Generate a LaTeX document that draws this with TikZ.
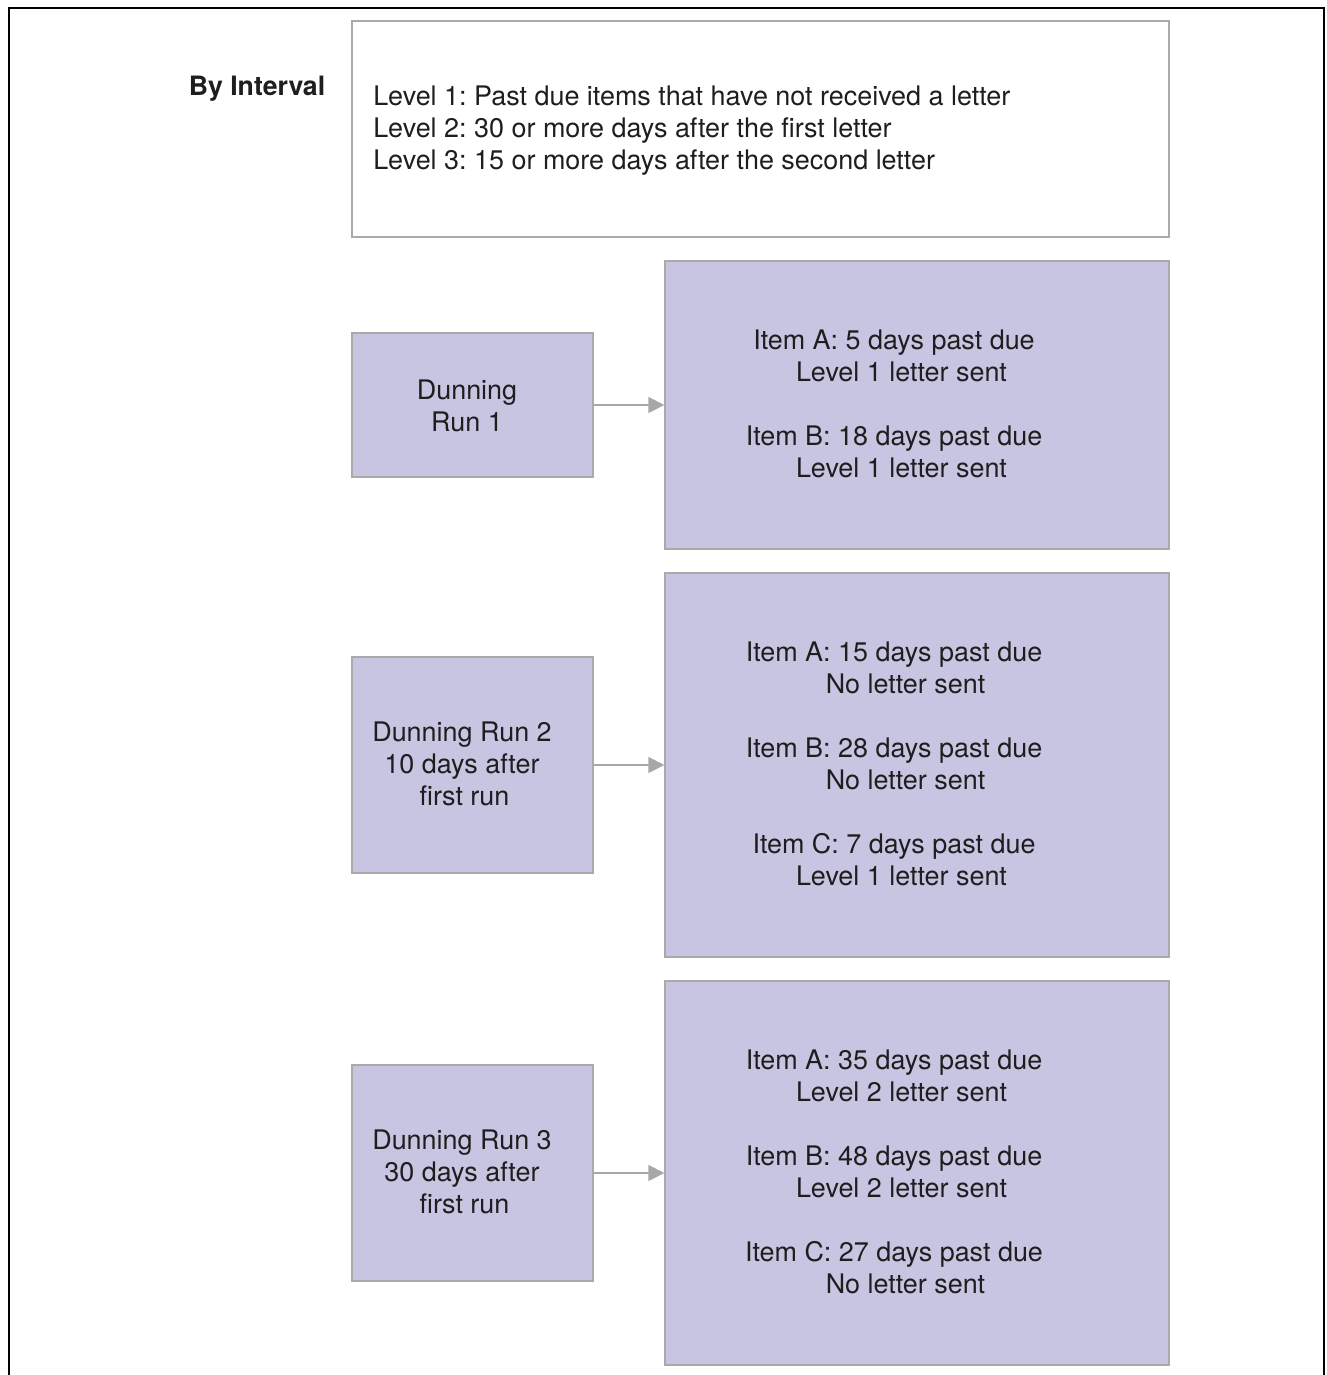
\documentclass[tikz,border=0pt]{standalone}
\usepackage{fontspec}
\setmainfont{TeX Gyre Heros}
\frenchspacing
\usetikzlibrary{arrows.meta}
\definecolor{boxfill}{HTML}{C8C5E2}
\definecolor{boxline}{HTML}{AAAAAA}
\definecolor{txtcol}{HTML}{1E1E1E}
\definecolor{arrcol}{HTML}{A8A8A8}
\begin{document}
\begin{tikzpicture}[x=0.75pt,y=-0.75pt,
  runbox/.style={draw=boxline,fill=boxfill,line width=1pt,rectangle,inner sep=0pt,minimum width=180.75pt},
  resbox/.style={draw=boxline,fill=boxfill,line width=1pt,rectangle,inner sep=0pt,minimum width=378pt},
  txt/.style={text=txtcol,font=\fontsize{20.2}{24}\selectfont,align=center,inner sep=0pt},
  arr/.style={draw=arrcol,line width=1.1pt,-{Triangle[length=12pt,width=12pt]},shorten >=0pt}
]
\useasboundingbox (0,0) rectangle (1327,1375);
% outer frame
\draw[line width=2.2pt,black] (9,1376) -- (9,8) -- (1324,8) -- (1324,1376);
% title
\node[txt,font=\bfseries\fontsize{20}{24}\selectfont] (title) at (257,89) {By Interval};
% top box
\node[draw=boxline,line width=1pt,fill=white,rectangle,inner sep=0pt,minimum width=612.75pt,minimum height=162pt] (top) at (760.5,129) {};
\node[txt,align=left,anchor=west] (toptext) at (373,131) {Level 1: Past due items that have not received a letter\\Level 2: 30 or more days after the first letter\\Level 3: 15 or more days after the second letter};
% run boxes
\node[runbox,minimum height=108pt] (run1) at (472.5,405) {};
\node[runbox,minimum height=162pt] (run2) at (472.5,765) {};
\node[runbox,minimum height=162pt] (run3) at (472.5,1173) {};
\node[txt] (run1t) at (467,406) {Dunning\\Run 1};
\node[txt] (run2t) at (462,764) {Dunning Run 2\\10 days after\\ \hspace{3.75pt}first run};
\node[txt] (run3t) at (462,1172) {Dunning Run 3\\30 days after\\ \hspace{3.75pt}first run};
% result boxes
\node[resbox,minimum height=216pt] (res1) at (917,405) {};
\node[resbox,minimum height=288pt] (res2) at (917,765) {};
\node[resbox,minimum height=288pt] (res3) at (917,1173) {};
\node[txt] (res1t) at (894,404) {Item A: 5 days past due\\ \hspace{11.25pt}Level 1 letter sent\\[24pt]Item B: 18 days past due\\ \hspace{11.25pt}Level 1 letter sent};
\node[txt] (res2t) at (894,764) {Item A: 15 days past due\\ \hspace{17.25pt}No letter sent\\[24pt]Item B: 28 days past due\\ \hspace{17.25pt}No letter sent\\[24pt]Item C: 7 days past due\\ \hspace{11.25pt}Level 1 letter sent};
\node[txt] (res3t) at (894,1172) {Item A: 35 days past due\\ \hspace{11.25pt}Level 2 letter sent\\[24pt]Item B: 48 days past due\\ \hspace{11.25pt}Level 2 letter sent\\[24pt]Item C: 27 days past due\\ \hspace{17.25pt}No letter sent};
% arrows
\draw[arr] (run1.east) -- (res1.west);
\draw[arr] (run2.east) -- (res2.west);
\draw[arr] (run3.east) -- (res3.west);
\end{tikzpicture}
\end{document}
